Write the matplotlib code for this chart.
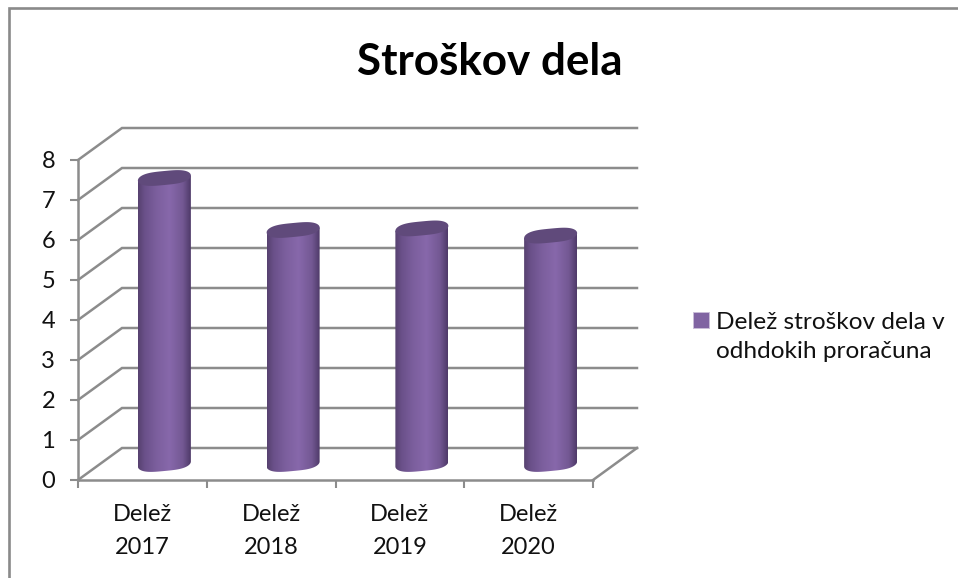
import numpy as np
import matplotlib
matplotlib.use('Agg')
import matplotlib.pyplot as plt
from matplotlib.colors import LinearSegmentedColormap
from matplotlib.lines import Line2D
from matplotlib.patches import Patch, Polygon

plt.rcParams['font.family'] = ['Lato', 'DejaVu Sans']

# data
categories = ['Delež\n2017', 'Delež\n2018', 'Delež\n2019', 'Delež\n2020']
values = [7.15, 5.85, 5.89, 5.71]
y_ticks = [0, 1, 2, 3, 4, 5, 6, 7, 8]
title = 'Stroškov dela'
series_lines = ['Delež stroškov dela v', 'odhdokih proračuna']

W, H = 958, 578
grid_col = '#8c8c8c'
text_col = '#111111'
purple = '#8064A2'
top_col = '#604A7B'

# fake 3d depth, in data units
depth_x = 44 / 128.75
depth_y = 32 / 40
half_w = 26.5 / 128.75

fig = plt.figure(figsize=(W / 100, H / 100), dpi=100)
ax = fig.add_axes([78 / W, 1 - 480 / H, 515 / W, 320 / H])
ax.patch.set_alpha(0)

# picture frame, top and left only
fig.add_artist(Line2D([9 / W, 9 / W, 1], [0, 1 - 8 / H, 1 - 8 / H], color='#8a8a8a', lw=1.9,
                      solid_joinstyle='miter'))

# walls and floor lines
for v in y_ticks:
    ax.plot([0, depth_x, 4 + depth_x], [v, v + depth_y, v + depth_y], color=grid_col, lw=1.8,
            clip_on=False, zorder=1, solid_joinstyle='miter')
ax.plot([4, 4 + depth_x], [0, depth_y], color=grid_col, lw=1.8, clip_on=False, zorder=1)

# cylinders
cmap = LinearSegmentedColormap.from_list('cyl', [(0, '#57416F'), (0.12, '#6A5089'), (0.35, '#7C5F9E'),
                                                 (0.6, '#8768AB'), (0.85, '#735893'), (1, '#4F3A69')])
t = np.linspace(0, 2 * np.pi, 200)
b = 7 / 40
k = 2.5 / 40


def squarish(a):
    # cap outline of the cylinder is a bit fuller than an ellipse
    return np.sign(np.cos(a)) * np.abs(np.cos(a)) ** 0.6


for i, val in enumerate(values):
    cx = i + 0.5 + depth_x / 2
    base = depth_y / 2
    top = base + val
    # body: front half of both ellipses
    tf = np.linspace(np.pi, 2 * np.pi, 80)
    xs = cx + half_w * squarish(tf)
    low = base + b * np.sin(tf) + k * squarish(tf)
    high = top + k * squarish(tf)
    body = np.column_stack([np.r_[xs, xs[::-1]], np.r_[low, high[::-1]]])
    poly = Polygon(body, closed=True, facecolor='none', edgecolor='none', transform=ax.transData)
    ax.add_patch(poly)
    im = ax.imshow(np.linspace(0, 1, 128)[None, :], cmap=cmap, aspect='auto', zorder=3,
                   extent=[cx - half_w, cx + half_w, base - 0.3, top + 0.3], clip_on=True)
    im.set_clip_path(poly)
    ax.fill(cx + half_w * squarish(t), top + b * np.sin(t) + k * squarish(t), color=top_col, lw=0,
            zorder=4, clip_on=False)

ax.set_xlim(0, 4)
ax.set_ylim(0, 8)

for s in ['top', 'right']:
    ax.spines[s].set_visible(False)
for s in ['left', 'bottom']:
    ax.spines[s].set_color(grid_col)
    ax.spines[s].set_linewidth(1.8)

ax.set_yticks(y_ticks)
ax.set_xticks(range(5))
ax.set_xticklabels([])
ax.set_xticks(np.arange(len(categories)) + 0.5, minor=True)
ax.set_xticklabels(categories, minor=True, fontsize=17, color=text_col, linespacing=1.75)
ax.tick_params(axis='x', which='major', length=5.5, width=1.5, color=grid_col)
ax.tick_params(axis='x', which='minor', length=0, pad=17)
ax.tick_params(axis='y', length=5.5, width=1.5, color=grid_col, labelsize=17, labelcolor=text_col, pad=11)
for lab in ax.get_yticklabels():
    lab.set_va('center_baseline')

fig.text(489.5 / W, 1 - 62 / H, title, fontsize=31.7, fontweight='bold', color='black', ha='center', va='center')

# second legend row only carries the wrapped text, so the swatch stays on the first line
handles = [Patch(facecolor=purple, edgecolor='#c9bdd8', lw=0.7), Patch(facecolor='none', edgecolor='none')]
fig.legend(handles=handles, labels=series_lines, loc='center left',
           bbox_to_anchor=(693 / W, 1 - 337 / H), frameon=False, fontsize=17.6, labelcolor=text_col,
           handlelength=0.64, handleheight=0.64, handletextpad=0.29, labelspacing=0.36, borderpad=0, borderaxespad=0)

fig.savefig('out.png', dpi=100)
